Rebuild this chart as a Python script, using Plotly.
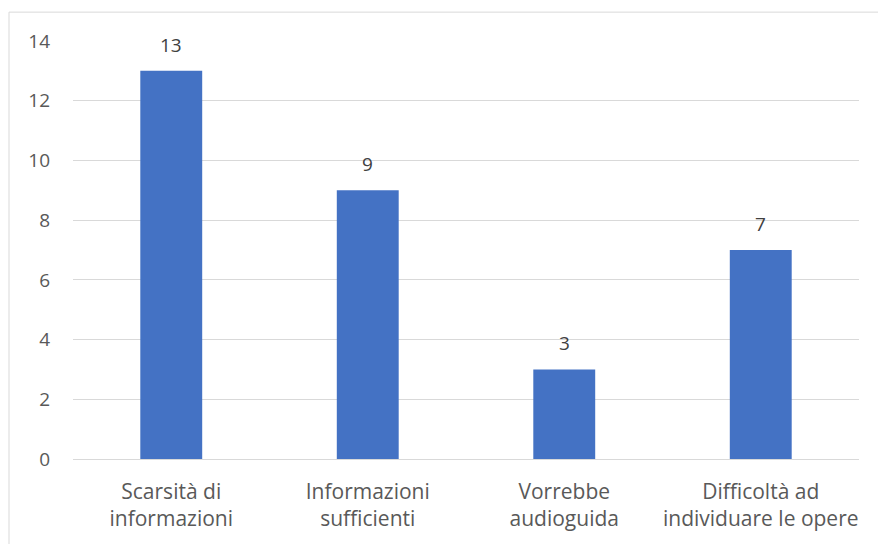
import plotly.graph_objects as go

categories = ["Scarsità di<br>informazioni", "Informazioni<br>sufficienti", "Vorrebbe<br>audioguida", "Difficoltà ad<br>individuare le opere"]
values = [13, 9, 3, 7]
y_ticks = [0, 2, 4, 6, 8, 10, 12, 14]

FONT = "Open Sans, Noto Sans, sans-serif"

fig = go.Figure()
fig.add_trace(go.Bar(
    x=categories, y=values,
    marker=dict(color="#4472C4", line=dict(width=0)),
    hoverinfo="skip",
))

for c, v in zip(categories, values):
    fig.add_annotation(x=c, y=v, text=str(v), showarrow=False,
                       yanchor="bottom", yshift=11,
                       font=dict(family=FONT, size=19, color="#404040"))

L, R, T, B = 73, 19, 41, 83
W, H = 878, 544
pw = W - L - R
ph = H - T - B
bx = (9 - L) / pw
by = 1 + (T - 12) / ph
line = dict(color="#d9d9d9", width=1)
fig.add_shape(type="line", xref="paper", yref="paper", x0=bx, x1=bx, y0=by, y1=-0.5, line=line)
fig.add_shape(type="line", xref="paper", yref="paper", x0=bx, x1=1.2, y0=by, y1=by, line=line)

fig.update_layout(
    width=W, height=H,
    margin=dict(l=L, r=R, t=T, b=B, pad=0),
    paper_bgcolor="white", plot_bgcolor="white",
    bargap=0.685,
    showlegend=False,
    font=dict(family=FONT, size=19, color="#595959"),
    xaxis=dict(showgrid=False, showline=False, ticks="", zeroline=False,
               ticklabelstandoff=18,
               tickfont=dict(size=21, color="#595959")),
    yaxis=dict(range=[0, 14], tickvals=y_ticks, showgrid=True, gridcolor="#d9d9d9",
               gridwidth=1, zeroline=True, zerolinecolor="#d9d9d9", zerolinewidth=1,
               showline=False, ticks="", ticklabelstandoff=22,
               tickfont=dict(size=19, color="#595959")),
)

fig.write_html("out.html", config={"displayModeBar": False},
               post_script="document.body.style.margin='0';")
